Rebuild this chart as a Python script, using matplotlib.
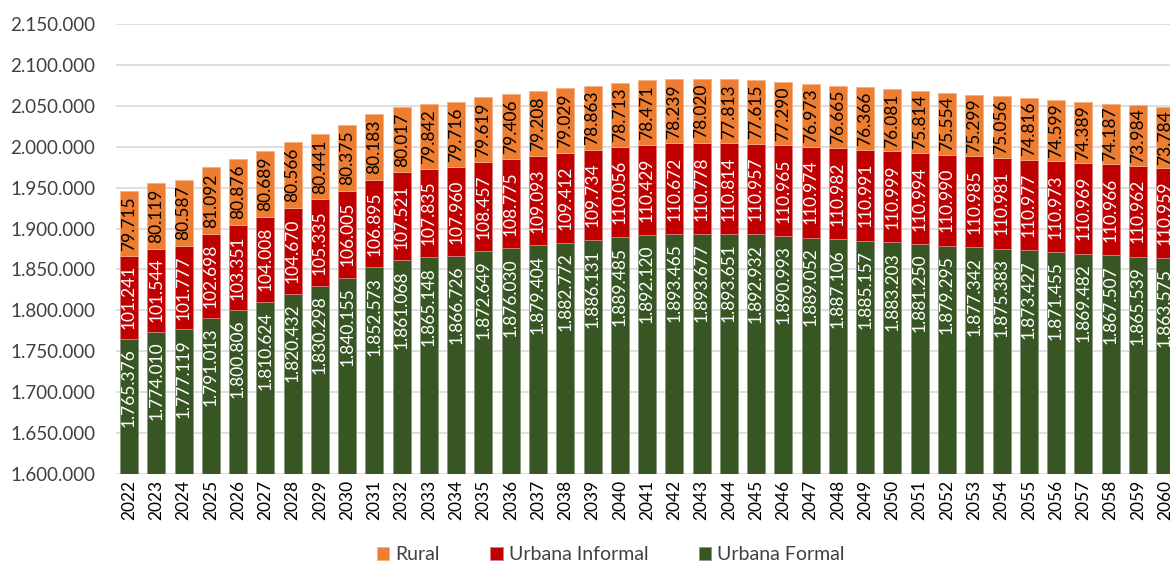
import matplotlib
matplotlib.use("Agg")
import matplotlib.pyplot as plt
from matplotlib.ticker import FuncFormatter
import numpy as np

plt.rcParams['font.family'] = ['Lato', 'DejaVu Sans']

anos = list(range(2022, 2061))

urbana_formal = [1765376, 1774010, 1777119, 1791013, 1800806, 1810624, 1820432, 1830298,
                 1840155, 1852573, 1861068, 1865148, 1866726, 1872649, 1876030, 1879404,
                 1882772, 1886131, 1889485, 1892120, 1893465, 1893677, 1893651, 1892932,
                 1890993, 1889052, 1887106, 1885157, 1883203, 1881250, 1879295, 1877342,
                 1875383, 1873427, 1871455, 1869482, 1867507, 1865539, 1863575]
urbana_informal = [101241, 101544, 101777, 102698, 103351, 104008, 104670, 105335,
                   106005, 106895, 107521, 107835, 107960, 108457, 108775, 109093,
                   109412, 109734, 110056, 110429, 110672, 110778, 110814, 110957,
                   110965, 110974, 110982, 110991, 110999, 110994, 110990, 110985,
                   110981, 110977, 110973, 110969, 110966, 110962, 110959]
rural = [79715, 80119, 80587, 81092, 80876, 80689, 80566, 80441,
         80375, 80183, 80017, 79842, 79716, 79619, 79406, 79208,
         79029, 78863, 78713, 78471, 78239, 78020, 77813, 77615,
         77290, 76973, 76665, 76366, 76081, 75814, 75554, 75299,
         75056, 74816, 74599, 74389, 74187, 73984, 73784]

def fmt(v):
    return f"{int(v):,}".replace(",", ".")

fig = plt.figure(figsize=(11.7, 5.65), dpi=100)
ax = fig.add_axes([0.0991, 0.161, 0.9009, 0.7965])

x = np.arange(len(anos))
f = np.array(urbana_formal)
i = np.array(urbana_informal)
r = np.array(rural)
w = 0.66

ax.bar(x, f, w, color='#375623', edgecolor='#8a9a80', linewidth=0.6, label='Urbana Formal', zorder=2)
ax.bar(x, i, w, bottom=f, color='#C00000', edgecolor='#d88080', linewidth=0.6, label='Urbana Informal', zorder=2)
ax.bar(x, r, w, bottom=f + i, color='#ED7D31', edgecolor='#f4b183', linewidth=0.6, label='Rural', zorder=2)

# rotulos: verde ancorado no topo do segmento, demais centralizados
for k in range(len(anos)):
    ax.text(x[k], f[k] - 60000, fmt(f[k]), rotation=90,
            ha='center', va='center', color='white', fontsize=12.5, zorder=3)
    ax.text(x[k], f[k] + i[k] / 2, fmt(i[k]), rotation=90,
            ha='center', va='center', color='white', fontsize=12.5, zorder=3)
    ax.text(x[k], f[k] + i[k] + r[k] / 2, fmt(r[k]), rotation=90,
            ha='center', va='center', color='black', fontsize=12.5, zorder=3)

ax.set_ylim(1600000, 2150000)
ax.set_yticks(np.arange(1600000, 2150001, 50000))
ax.yaxis.set_major_formatter(FuncFormatter(lambda v, p: fmt(v)))
ax.set_xlim(-0.48, 38.18)
ax.set_xticks(x)
ax.set_xticklabels([str(a) for a in anos], rotation=90)
ax.tick_params(axis='y', length=0, labelsize=13.5, labelcolor='#404040', pad=15)
ax.tick_params(axis='x', length=0, labelsize=12.5, labelcolor='#000000', pad=4)
ax.grid(axis='y', color='#d9d9d9', linewidth=1.2, zorder=0)
ax.set_axisbelow(True)
for s in ax.spines.values():
    s.set_visible(False)

h, l = ax.get_legend_handles_labels()
fig.legend(h[::-1], l[::-1], loc='center', bbox_to_anchor=(0.522, 0.018), ncol=3,
           frameon=False, fontsize=14, handlelength=0.65, handleheight=0.65,
           columnspacing=2.6, handletextpad=0.3, labelcolor='#404040')

fig.savefig('out.png', dpi=100)
